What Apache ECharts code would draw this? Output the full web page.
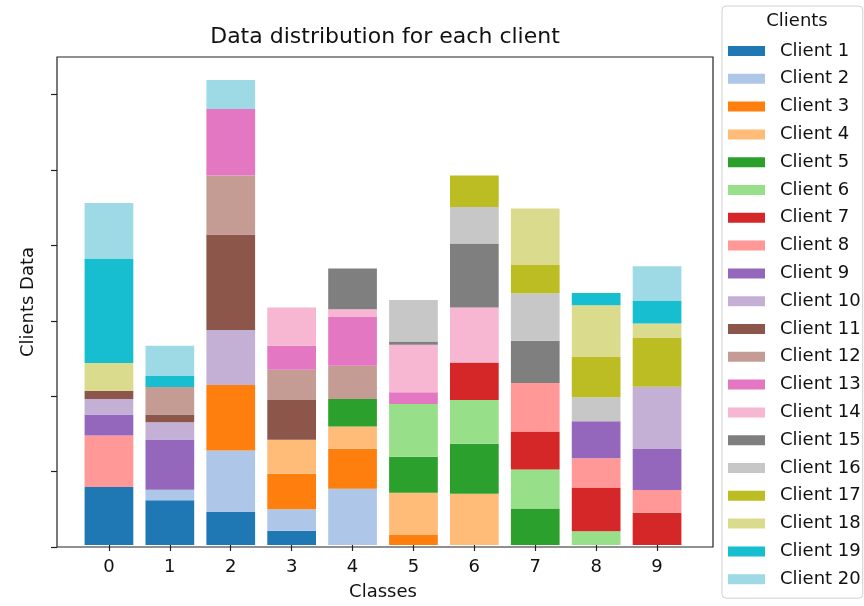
<!DOCTYPE html>
<html>
<head>
<meta charset="utf-8">
<script src="https://cdn.jsdelivr.net/npm/echarts@6/dist/echarts.min.js"></script>
<style>
  html, body { margin: 0; padding: 0; background: #fff; }
  #chart { width: 864px; height: 606px; }
</style>
</head>
<body>
<div id="chart"></div>
<script>
// Class labels along the x axis
const classes = ['0', '1', '2', '3', '4', '5', '6', '7', '8', '9'];

// Samples held by each client, one value per class
const client1  = [773, 595, 441, 189, 0, 0, 0, 0, 0, 0];
const client2  = [0, 142, 818, 287, 750, 0, 0, 0, 0, 0];
const client3  = [0, 0, 872, 474, 531, 139, 0, 0, 0, 0];
const client4  = [0, 0, 0, 451, 296, 558, 684, 0, 0, 0];
const client5  = [0, 0, 0, 0, 368, 478, 664, 485, 0, 0];
const client6  = [0, 0, 0, 0, 0, 704, 584, 522, 183, 0];
const client7  = [0, 0, 0, 0, 0, 0, 500, 504, 584, 431];
const client8  = [685, 0, 0, 0, 0, 0, 0, 646, 390, 301];
const client9  = [279, 668, 0, 0, 0, 0, 0, 0, 491, 548];
const client10 = [208, 231, 734, 0, 0, 0, 0, 0, 0, 827];
const client11 = [110, 101, 1270, 531, 0, 0, 0, 0, 0, 0];
const client12 = [0, 368, 787, 402, 442, 0, 0, 0, 0, 0];
const client13 = [0, 0, 885, 319, 656, 155, 0, 0, 0, 0];
const client14 = [0, 0, 0, 510, 97, 632, 730, 0, 0, 0];
const client15 = [0, 0, 0, 0, 544, 45, 854, 562, 0, 0];
const client16 = [0, 0, 0, 0, 0, 552, 487, 633, 319, 0];
const client17 = [0, 0, 0, 0, 0, 0, 420, 376, 544, 656];
const client18 = [368, 0, 0, 0, 0, 0, 0, 753, 681, 186];
const client19 = [1394, 146, 0, 0, 0, 0, 0, 0, 163, 300];
const client20 = [739, 402, 385, 0, 0, 0, 0, 0, 0, 465];

const clientData = [client1, client2, client3, client4, client5, client6, client7,
  client8, client9, client10, client11, client12, client13, client14, client15,
  client16, client17, client18, client19, client20];
const clientNames = clientData.map((_, i) => 'Client ' + (i + 1));

// y ticks (drawn without labels)
const yTicks = [0, 1000, 2000, 3000, 4000, 5000, 6000];
const yMax = 6500;

// tab20 palette
const palette = ['#1f77b4', '#aec7e8', '#ff7f0e', '#ffbb78', '#2ca02c', '#98df8a',
  '#d62728', '#ff9896', '#9467bd', '#c5b0d5', '#8c564b', '#c49c94', '#e377c2',
  '#f7b6d2', '#7f7f7f', '#c7c7c7', '#bcbd22', '#dbdb8d', '#17becf', '#9edae5'];

const FONT = 'DejaVu Sans';
const INK = '#111';
const TOP = 57, BOTTOM = 59;

const chart = echarts.init(document.getElementById('chart'), null, { renderer: 'canvas' });

// Bars live in the inner grid (index 1); the outer grid (index 0) carries the frame and y ticks
const series = clientData.map((vals, i) => ({
  name: clientNames[i],
  type: 'bar',
  stack: 'total',
  xAxisIndex: 1,
  yAxisIndex: 1,
  barWidth: '80%',
  itemStyle: { color: palette[i] },
  emphasis: { disabled: true },
  data: vals
}));

chart.setOption({
  animation: false,
  textStyle: { fontFamily: FONT },
  title: [
    {
      text: 'Data distribution for each client',
      left: 385, top: 26, padding: 0, textAlign: 'center',
      textStyle: { fontFamily: FONT, fontSize: 22, fontWeight: 'normal', color: INK }
    },
    {
      text: 'Clients',
      left: 797, top: 12, padding: 0, textAlign: 'center',
      textStyle: { fontFamily: FONT, fontSize: 18, fontWeight: 'normal', color: INK }
    }
  ],
  legend: {
    orient: 'vertical',
    left: 722, top: 6,
    padding: [36, 2, 10, 6],
    itemWidth: 37, itemHeight: 10, itemGap: 9.8,
    icon: 'rect',
    borderColor: '#d0d0d0', borderWidth: 1, borderRadius: 4,
    backgroundColor: 'rgba(255,255,255,0.8)',
    textStyle: { fontFamily: FONT, fontSize: 18, lineHeight: 18, color: INK, padding: [0, 0, 0, 10] },
    data: clientNames
  },
  grid: [
    { left: 57, right: 151, top: TOP, bottom: BOTTOM,
      show: true, borderColor: '#222', borderWidth: 1.2, backgroundColor: 'transparent' },
    { left: 78.5, right: 176.5, top: TOP, bottom: BOTTOM }
  ],
  xAxis: [
    { type: 'value', gridIndex: 0, min: 0, max: 1, show: false },
    {
      type: 'category', gridIndex: 1, data: classes,
      name: 'Classes', nameLocation: 'middle', nameGap: 38,
      nameTextStyle: { fontFamily: FONT, fontSize: 18, color: INK },
      axisLine: { show: false },
      axisTick: { show: true, alignWithLabel: true, length: 6, lineStyle: { color: '#222', width: 1.2 } },
      axisLabel: { fontFamily: FONT, fontSize: 18, color: INK, margin: 13 },
      splitLine: { show: false }
    }
  ],
  yAxis: [
    {
      type: 'value', gridIndex: 0, min: 0, max: yMax,
      name: 'Clients Data', nameLocation: 'middle', nameGap: 20,
      nameTextStyle: { fontFamily: FONT, fontSize: 18, color: INK },
      axisLine: { show: false },
      axisTick: { show: true, length: 6, lineStyle: { color: '#222', width: 1.2 }, customValues: yTicks },
      axisLabel: { show: false },
      splitLine: { show: false }
    },
    { type: 'value', gridIndex: 1, min: 0, max: yMax, show: false }
  ],
  series: series
});
</script>
</body>
</html>
